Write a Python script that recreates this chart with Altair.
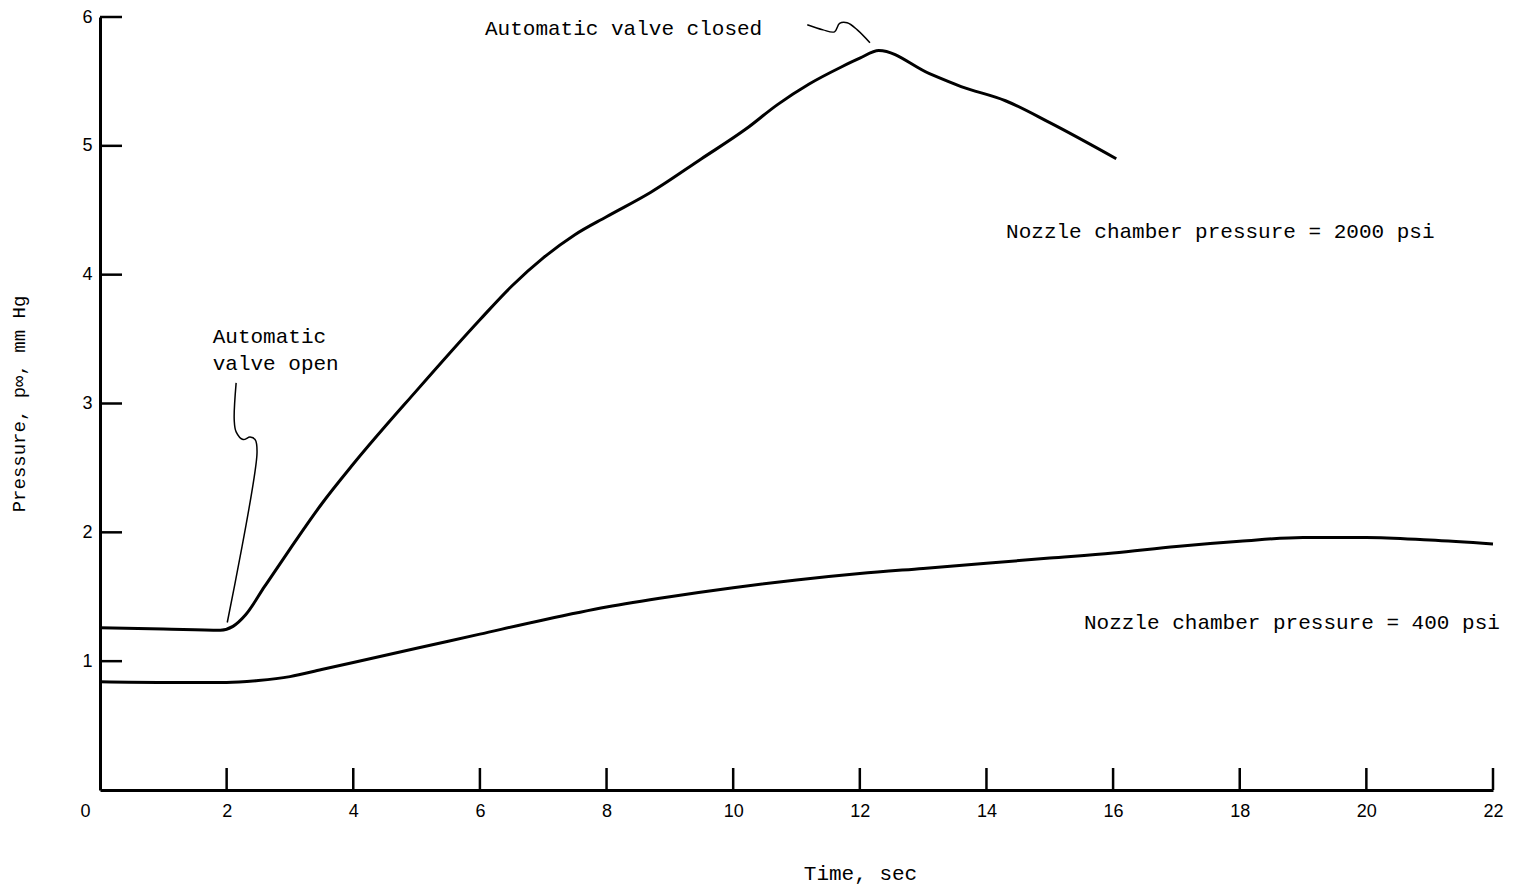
import altair as alt
import pandas as pd

# 2000 psi curve
t_hi = [0, 1, 1.9, 2.1, 2.3, 2.6, 3.0, 3.5, 4.0, 5.0, 6.0, 6.5, 7.0, 7.5, 8.0, 8.7, 9.5,
        10.2, 10.7, 11.2, 11.7, 12.0, 12.3, 13.1, 13.6, 14.3, 15.0, 16.05]
p_hi = [1.26, 1.25, 1.24, 1.27, 1.36, 1.58, 1.87, 2.22, 2.53, 3.10, 3.65, 3.91, 4.13,
        4.31, 4.45, 4.64, 4.90, 5.13, 5.32, 5.48, 5.61, 5.68, 5.74, 5.56, 5.46, 5.35,
        5.18, 4.90]

# 400 psi curve
t_lo = [0, 1, 2, 2.5, 3, 3.5, 4, 5, 6, 7, 8, 9, 10, 11, 12, 13, 14, 15, 16, 17, 18,
        19, 20, 21, 22]
p_lo = [0.84, 0.835, 0.835, 0.85, 0.88, 0.935, 0.99, 1.10, 1.21, 1.32, 1.42, 1.50, 1.57,
        1.63, 1.68, 1.72, 1.76, 1.80, 1.84, 1.89, 1.93, 1.96, 1.96, 1.94, 1.91]

# annotation leader lines
lead_open_t = [2.15, 2.12, 2.15, 2.26, 2.37, 2.45, 2.48, 2.01]
lead_open_p = [3.16, 2.87, 2.78, 2.72, 2.74, 2.72, 2.62, 1.30]
lead_closed_t = [11.17, 11.42, 11.60, 11.68, 11.80, 11.96, 12.16]
lead_closed_p = [5.94, 5.90, 5.885, 5.95, 5.955, 5.90, 5.80]

# labels
label_text = ["Automatic valve closed", "Automatic", "valve open",
              "Nozzle chamber pressure = 2000 psi", "Nozzle chamber pressure = 400 psi"]
label_t = [6.08, 1.78, 1.78, 14.31, 15.54]
label_p = [5.91, 3.52, 3.31, 4.33, 1.30]

x_ticks = [2, 4, 6, 8, 10, 12, 14, 16, 18, 20, 22]
y_ticks = [1, 2, 3, 4, 5, 6]
x_tick_labels = [0, 2, 4, 6, 8, 10, 12, 14, 16, 18, 20, 22]

W, H = 1393, 773
MONO = "Liberation Mono"

xs = alt.Scale(domain=[0, 22], nice=False, zero=False)
ys = alt.Scale(domain=[0, 6], nice=False, zero=False)

curves = pd.DataFrame({
    "t": t_hi + t_lo,
    "p": p_hi + p_lo,
    "s": ["2000"] * len(t_hi) + ["400"] * len(t_lo),
})
leaders = pd.DataFrame({
    "t": lead_open_t + lead_closed_t,
    "p": lead_open_p + lead_closed_p,
    "s": ["open"] * len(lead_open_t) + ["closed"] * len(lead_closed_t),
    "o": list(range(len(lead_open_t))) + list(range(len(lead_closed_t))),
})
labels = pd.DataFrame({"txt": label_text, "t": label_t, "p": label_p})

base_x = alt.X("t:Q", scale=xs, axis=alt.Axis(
    values=x_tick_labels, format="d", ticks=False, grid=False, domainWidth=3,
    domainColor="black", labelFont="Liberation Sans", labelFontSize=18, labelColor="black",
    labelPadding=12,
    labelOffset={"condition": {"test": "datum.value === 0", "value": -15}, "value": 0},
    title="Time, sec", titleFont=MONO, titleFontSize=21, titleFontWeight="normal",
    titleColor="black", titlePadding=42, titleX=760, labelFlush=False))
base_y = alt.Y("p:Q", scale=ys, axis=alt.Axis(
    values=y_ticks, format="d", ticks=False, grid=False, domainWidth=3, domainColor="black",
    labelFont="Liberation Sans", labelFontSize=18, labelColor="black", labelPadding=8,
    title="Pressure, p\u221e, mm Hg", titleFont=MONO, titleFontSize=19,
    titleFontWeight="normal", titleColor="black", titlePadding=53, labelFlush=False))

lines = alt.Chart(curves).mark_line(color="black", strokeWidth=3, interpolate="monotone").encode(
    x=base_x, y=base_y, detail="s:N")

lead = alt.Chart(leaders).mark_line(color="black", strokeWidth=1.5, interpolate="catmull-rom").encode(
    x=alt.X("t:Q", scale=xs), y=alt.Y("p:Q", scale=ys), detail="s:N", order="o:Q")

txt = alt.Chart(labels).mark_text(font=MONO, fontSize=21, align="left", baseline="middle",
                                  color="black").encode(
    x=alt.X("t:Q", scale=xs), y=alt.Y("p:Q", scale=ys), text="txt:N")

xt = alt.Chart(pd.DataFrame({"t": x_ticks})).mark_rule(color="black", strokeWidth=2.5).encode(
    x=alt.X("t:Q", scale=xs), y=alt.value(H), y2=alt.value(H - 22))
yt = alt.Chart(pd.DataFrame({"p": y_ticks})).mark_rule(color="black", strokeWidth=2.5).encode(
    y=alt.Y("p:Q", scale=ys), x=alt.value(0), x2=alt.value(22))

chart = alt.layer(lines, lead, txt, xt, yt).properties(
    width=W, height=H,
    autosize=alt.AutoSizeParams(type="none"),
    padding={"left": 92, "top": 9, "right": 37, "bottom": 95},
    view=alt.ViewBackground(stroke="transparent", strokeWidth=0),
).configure_view(stroke="transparent", strokeWidth=0).configure(background="white")

chart.save("out.html", embed_options={"renderer": "svg", "actions": False})
